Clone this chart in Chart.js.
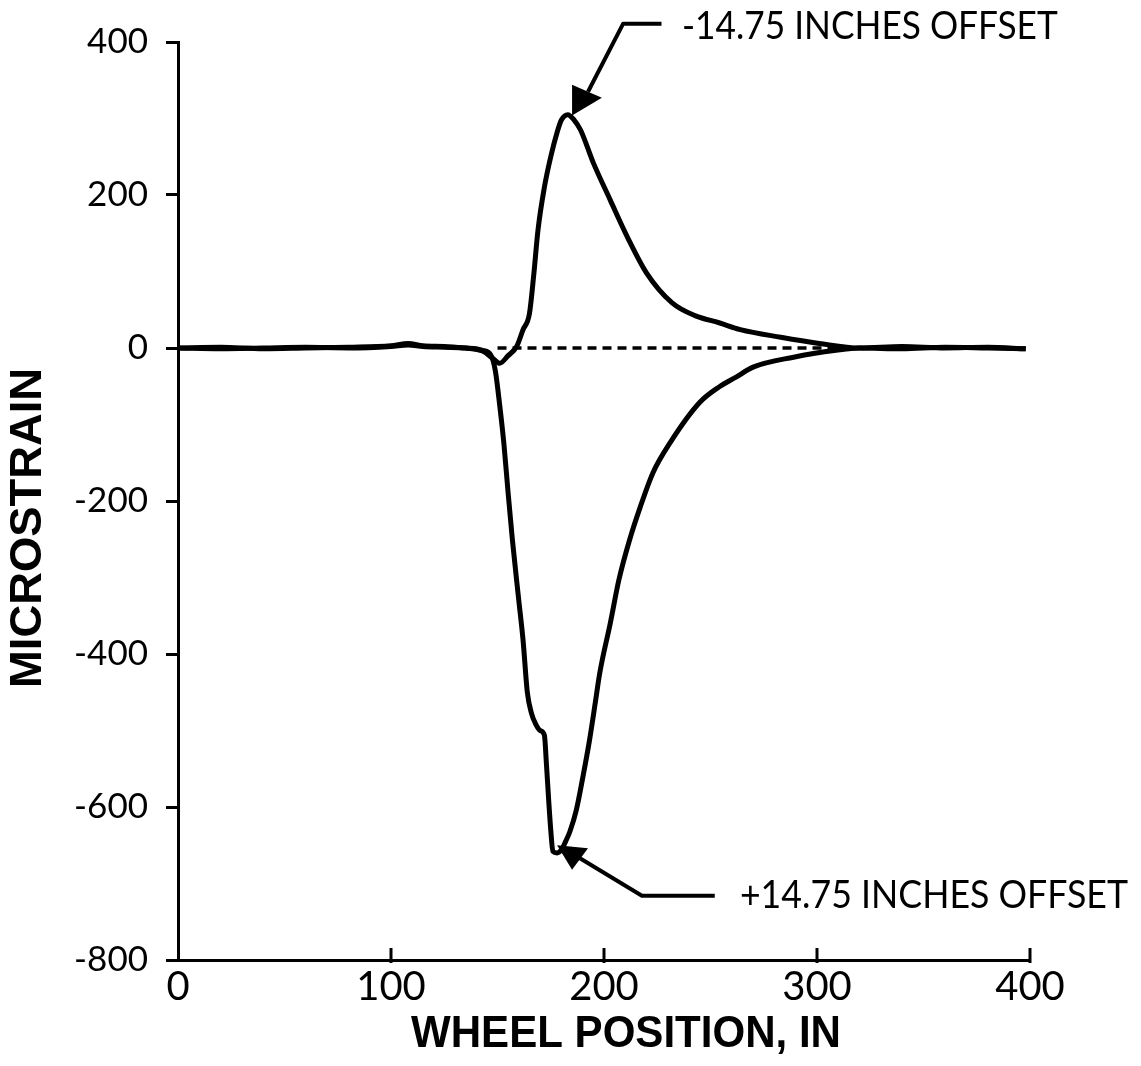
<!DOCTYPE html>
<html>
<head>
<meta charset="utf-8">
<title>Microstrain vs wheel position</title>
<script src="https://cdn.jsdelivr.net/npm/chart.js@4.4.1/dist/chart.umd.min.js"></script>
<style>
  html, body { margin: 0; padding: 0; background: #fff; }
  #wrap { width: 1141px; height: 1066px; }
</style>
</head>
<body>
<div id="wrap"><canvas id="strainChart" width="1141" height="1066"></canvas></div>
<script>
// wheel position (in) / microstrain
const minusOffsetX = [0, 20, 40, 60, 80, 100, 108, 115, 125, 135, 143, 148, 151, 155, 159, 162, 165, 167, 169, 172, 175, 178, 180, 183, 186, 189, 195, 203, 211, 220, 232, 243, 254, 264, 283, 301, 320, 340, 360, 380, 398];
const minusOffsetY = [0, 1, -1, 0, 1, 3, 6, 3, 2, 0, -4, -14, -20, -10, 2, 24, 45, 95, 154, 210, 250, 282, 298, 305, 298, 285, 242, 193, 145, 98, 59, 42, 33, 24, 14, 6, 0, 2, 0, 1, -1];

const plusOffsetX = [0, 20, 40, 60, 80, 100, 108, 115, 125, 135, 143, 147, 149, 151, 153, 155, 157, 160, 162, 164, 166, 168, 170, 172, 173, 174, 175, 176, 178, 180, 182, 184, 187, 190, 193, 196, 198, 203, 207, 212, 217, 223, 231, 245, 254, 262, 270, 289, 309, 320, 340, 360, 380, 398];
const plusOffsetY = [0, -1, 0, 1, 0, 2, 4, 2, 1, 0, -3, -10, -30, -74, -125, -190, -251, -330, -382, -450, -478, -492, -500, -506, -545, -590, -630, -658, -660, -656, -645, -632, -604, -562, -516, -462, -425, -359, -303, -251, -208, -163, -124, -71, -51, -38, -25, -12, -3, 0, -1, 1, 0, -1];

// dashed zero reference between the two traces
const zeroLineX = [150, 315];
const zeroLineY = [0, 0];

const xTicks = [0, 100, 200, 300, 400];
const yTicks = [400, 200, 0, -200, -400, -600, -800];

const toPoints = (xs, ys) => xs.map((x, i) => ({ x, y: ys[i] }));

// callouts, anchored in data units
const callouts = [
  {
    text: '-14.75 INCHES OFFSET',
    head: [[185, 344], [199, 327], [185, 304]],
    leader: [[192.5, 335], [209, 424], [227, 424]],
    textFrom: 236.6, textTo: 413, textY: 420,
  },
  {
    text: '+14.75 INCHES OFFSET',
    head: [[178, -650], [192.5, -654], [185, -682]],
    leader: [[188.7, -667], [217.8, -716], [252, -716]],
    textFrom: 263.8, textTo: 446, textY: -716,
  },
];

function fitText(ctx, text, cx, cy, width, font, rotate) {
  ctx.save();
  ctx.font = font;
  const w = ctx.measureText(text).width;
  ctx.translate(cx, cy);
  if (rotate) ctx.rotate(-Math.PI / 2);
  ctx.scale(width / w, 1);
  ctx.textAlign = 'center';
  ctx.textBaseline = 'middle';
  ctx.fillStyle = '#000';
  ctx.fillText(text, 0, 0);
  ctx.restore();
}

const decorations = {
  id: 'decorations',
  afterDraw(chart) {
    const { ctx, scales: { x, y }, chartArea } = chart;
    const px = (p) => [x.getPixelForValue(p[0]), y.getPixelForValue(p[1])];

    // inward tick marks on the x axis
    ctx.save();
    ctx.strokeStyle = '#000';
    ctx.lineWidth = 3;
    xTicks.slice(1).forEach((v) => {
      const xp = x.getPixelForValue(v);
      ctx.beginPath();
      ctx.moveTo(xp, chartArea.bottom + 3);
      ctx.lineTo(xp, chartArea.bottom - 12);
      ctx.stroke();
    });
    ctx.restore();

    callouts.forEach((c) => {
      ctx.save();
      ctx.fillStyle = '#000';
      ctx.strokeStyle = '#000';
      ctx.lineWidth = 4;
      ctx.lineJoin = 'round';
      ctx.beginPath();
      c.head.forEach((p, i) => {
        const [a, b] = px(p);
        if (i === 0) ctx.moveTo(a, b); else ctx.lineTo(a, b);
      });
      ctx.closePath();
      ctx.fill();
      ctx.beginPath();
      c.leader.forEach((p, i) => {
        const [a, b] = px(p);
        if (i === 0) ctx.moveTo(a, b); else ctx.lineTo(a, b);
      });
      ctx.stroke();
      ctx.restore();

      const x0 = x.getPixelForValue(c.textFrom);
      const x1 = x.getPixelForValue(c.textTo);
      fitText(ctx, c.text, (x0 + x1) / 2, y.getPixelForValue(c.textY), x1 - x0, '38px Lato');
    });

    // axis titles
    fitText(ctx, 'WHEEL POSITION, IN', 626, 1035, 430, 'bold 45px "Liberation Sans"');
    fitText(ctx, 'MICROSTRAIN', 29, 528, 320, 'bold 44px "Liberation Sans"', true);
  },
};

const ctx = document.getElementById('strainChart').getContext('2d');
new Chart(ctx, {
  type: 'line',
  data: {
    datasets: [
      {
        label: '-14.75 inches offset',
        data: toPoints(minusOffsetX, minusOffsetY),
        borderColor: '#000',
        borderWidth: 5,
        pointRadius: 0,
        cubicInterpolationMode: 'monotone',
        fill: false,
      },
      {
        label: '+14.75 inches offset',
        data: toPoints(plusOffsetX, plusOffsetY),
        borderColor: '#000',
        borderWidth: 5,
        pointRadius: 0,
        cubicInterpolationMode: 'monotone',
        fill: false,
      },
      {
        label: 'zero',
        data: toPoints(zeroLineX, zeroLineY),
        borderColor: '#000',
        borderWidth: 3.5,
        borderDash: [9, 6],
        pointRadius: 0,
        fill: false,
      },
    ],
  },
  options: {
    responsive: false,
    animation: false,
    devicePixelRatio: 1,
    layout: { padding: { top: 42, right: 111, left: 0, bottom: 0 } },
    plugins: {
      legend: { display: false },
      tooltip: { enabled: false },
    },
    scales: {
      x: {
        type: 'linear',
        min: 0,
        max: 400,
        afterFit: (scale) => { scale.height = 106; },
        afterBuildTicks: (scale) => { scale.ticks = xTicks.map((v) => ({ value: v })); },
        grid: { drawOnChartArea: false, drawTicks: false },
        border: { display: true, color: '#000', width: 3 },
        ticks: {
          color: '#000',
          padding: 3,
          maxRotation: 0,
          font: { family: 'Lato', size: 40 },
        },
      },
      y: {
        type: 'linear',
        min: -800,
        max: 400,
        afterFit: (scale) => { scale.width = 178; },
        afterBuildTicks: (scale) => { scale.ticks = yTicks.map((v) => ({ value: v })); },
        grid: { drawOnChartArea: false, drawTicks: true, tickLength: 12, tickWidth: 3, tickColor: '#000' },
        border: { display: true, color: '#000', width: 3 },
        ticks: {
          color: '#000',
          padding: 18,
          font: { family: 'Lato', size: 35 },
        },
      },
    },
  },
  plugins: [decorations],
});
</script>
</body>
</html>
